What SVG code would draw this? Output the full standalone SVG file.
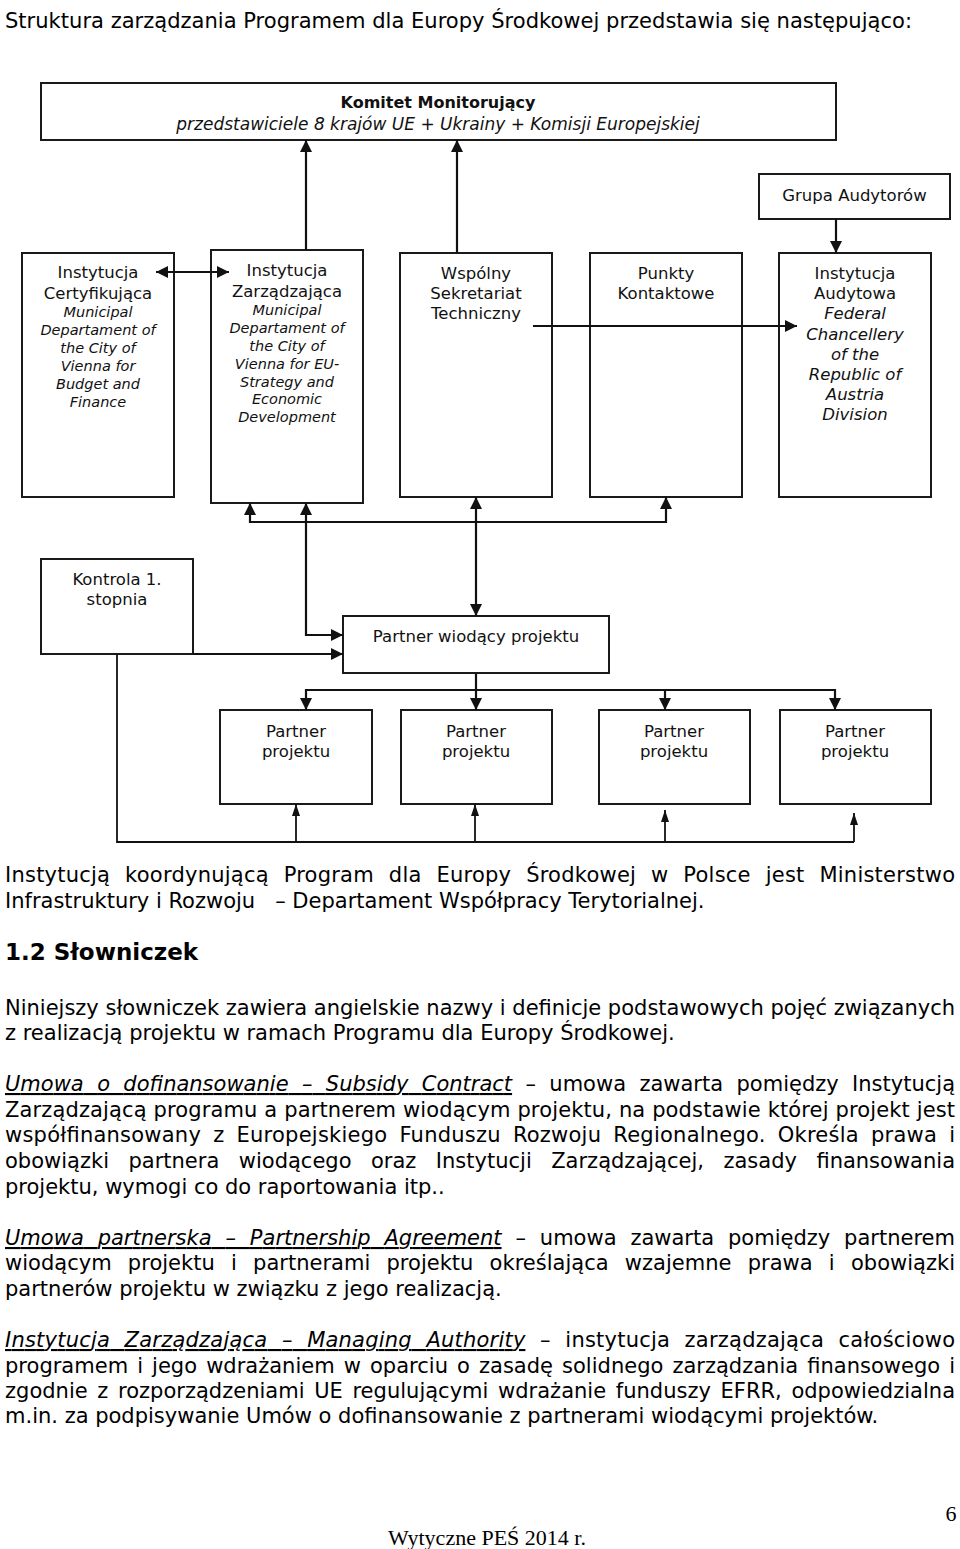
<svg xmlns="http://www.w3.org/2000/svg" width="960" height="1549" viewBox="0 0 960 1549">
<defs>
<style>
.bx{fill:#fff;stroke:#1a1a1a;stroke-width:2}
.t{font-family:"DejaVu Sans",Verdana,sans-serif;font-size:16.5px;fill:#111;text-anchor:middle}
.i{font-style:italic;font-size:14.5px}
.ib{font-style:italic}
.c{fill:none;stroke:#111;stroke-width:2.2}
.cs{fill:none;stroke:#111;stroke-width:1.8}
.ttl{font-family:"DejaVu Sans",Verdana,sans-serif;font-size:21px;fill:#000}
.b{font-family:"DejaVu Sans",Verdana,sans-serif;font-size:21px;fill:#000}
.u{font-style:italic;text-decoration:underline}
.h{font-family:"DejaVu Sans",Verdana,sans-serif;font-size:23px;font-weight:bold;fill:#000}
.f{font-family:"Liberation Serif","Times New Roman",serif;font-size:22px;fill:#000}
</style>
<marker id="a" markerUnits="userSpaceOnUse" viewBox="0 0 12 12" refX="12" refY="6" markerWidth="12" markerHeight="12" orient="auto-start-reverse"><path d="M0,0 L12,6 L0,12 z" fill="#111"/></marker>
<marker id="s" markerUnits="userSpaceOnUse" viewBox="0 0 12 8" refX="12" refY="4" markerWidth="12" markerHeight="8" orient="auto-start-reverse"><path d="M0,0 L12,4 L0,8 z" fill="#111"/></marker>
</defs>
<rect width="960" height="1549" fill="#fff"/>

<text id="title" class="ttl" x="5" y="28" textLength="907" lengthAdjust="spacingAndGlyphs">Struktura zarządzania Programem dla Europy Środkowej przedstawia się następująco:</text>

<g id="komitet">
<rect class="bx" x="41" y="83" width="795" height="57"/>
<text class="t" x="438" y="108" style="font-weight:bold;font-size:16px">Komitet Monitorujący</text>
<text class="t ib" x="438" y="130" style="font-size:17px">przedstawiciele 8 krajów UE + Ukrainy + Komisji Europejskiej</text>
</g>

<g id="grupa">
<rect class="bx" x="759" y="174" width="191" height="45"/>
<text class="t" x="854.5" y="201">Grupa Audytorów</text>
</g>

<g id="certyfikujaca">
<rect class="bx" x="22" y="253" width="152" height="244"/>
<text class="t" x="98" y="278">Instytucja</text>
<text class="t" x="98" y="299">Certyfikująca</text>
<text class="t i" x="98" y="317">Municipal</text>
<text class="t i" x="98" y="335">Departament of</text>
<text class="t i" x="98" y="353">the City of</text>
<text class="t i" x="98" y="371">Vienna for</text>
<text class="t i" x="98" y="389">Budget and</text>
<text class="t i" x="98" y="407">Finance</text>
</g>

<g id="zarzadzajaca">
<rect class="bx" x="211" y="250" width="152" height="253"/>
<text class="t" x="287" y="276">Instytucja</text>
<text class="t" x="287" y="297">Zarządzająca</text>
<text class="t i" x="287" y="315">Municipal</text>
<text class="t i" x="287" y="333">Departament of</text>
<text class="t i" x="287" y="351">the City of</text>
<text class="t i" x="287" y="369">Vienna for EU-</text>
<text class="t i" x="287" y="387">Strategy and</text>
<text class="t i" x="287" y="404">Economic</text>
<text class="t i" x="287" y="422">Development</text>
</g>

<g id="sekretariat">
<rect class="bx" x="400" y="253" width="152" height="244"/>
<text class="t" x="476" y="279">Wspólny</text>
<text class="t" x="476" y="299">Sekretariat</text>
<text class="t" x="476" y="319">Techniczny</text>
</g>

<g id="punkty">
<rect class="bx" x="590" y="253" width="152" height="244"/>
<text class="t" x="666" y="279">Punkty</text>
<text class="t" x="666" y="299">Kontaktowe</text>
</g>

<g id="audytowa">
<rect class="bx" x="779" y="253" width="152" height="244"/>
<text class="t" x="855" y="279">Instytucja</text>
<text class="t" x="855" y="299">Audytowa</text>
<text class="t ib" x="855" y="319">Federal</text>
<text class="t ib" x="855" y="340">Chancellery</text>
<text class="t ib" x="855" y="360">of the</text>
<text class="t ib" x="855" y="380">Republic of</text>
<text class="t ib" x="855" y="400">Austria</text>
<text class="t ib" x="855" y="420">Division</text>
</g>

<g id="kontrola">
<rect class="bx" x="41" y="559" width="152" height="95"/>
<text class="t" x="117" y="585">Kontrola 1.</text>
<text class="t" x="117" y="605">stopnia</text>
</g>

<g id="partner-wiodacy">
<rect class="bx" x="343" y="616" width="266" height="57"/>
<text class="t" x="476" y="642">Partner wiodący projektu</text>
</g>

<g id="partner1">
<rect class="bx" x="220" y="710" width="152" height="94"/>
<text class="t" x="296" y="737">Partner</text>
<text class="t" x="296" y="757">projektu</text>
</g>
<g id="partner2">
<rect class="bx" x="401" y="710" width="151" height="94"/>
<text class="t" x="476" y="737">Partner</text>
<text class="t" x="476" y="757">projektu</text>
</g>
<g id="partner3">
<rect class="bx" x="599" y="710" width="151" height="94"/>
<text class="t" x="674" y="737">Partner</text>
<text class="t" x="674" y="757">projektu</text>
</g>
<g id="partner4">
<rect class="bx" x="780" y="710" width="151" height="94"/>
<text class="t" x="855" y="737">Partner</text>
<text class="t" x="855" y="757">projektu</text>
</g>

<g id="connectors">
<path class="c" d="M306,250 L306,140" marker-end="url(#a)"/>
<path class="c" d="M457,253 L457,140" marker-end="url(#a)"/>
<path class="c" d="M156,272 L229,272" marker-start="url(#a)" marker-end="url(#a)"/>
<path class="c" d="M836,219 L836,253" marker-end="url(#a)"/>
<path class="c" d="M533,326 L797,326" marker-end="url(#a)"/>
<path class="c" d="M250,503 L250,522 L666,522 L666,497" marker-start="url(#a)" marker-end="url(#a)"/>
<path class="c" d="M476,497 L476,616" marker-start="url(#a)" marker-end="url(#a)"/>
<path class="c" d="M306,503 L306,635 L343,635" marker-start="url(#a)" marker-end="url(#a)"/>
<path class="c" d="M193,654 L343,654" marker-end="url(#a)"/>
<path class="c" d="M476,673 L476,710" marker-end="url(#a)"/>
<path class="c" d="M306,710 L306,690 L835,690 L835,710" marker-start="url(#a)" marker-end="url(#a)"/>
<path class="c" d="M665,690 L665,710" marker-end="url(#a)"/>
<path class="cs" d="M117,654 L117,842 L854,842"/>
<path class="cs" d="M296,842 L296,804" marker-end="url(#s)"/>
<path class="cs" d="M475,842 L475,804" marker-end="url(#s)"/>
<path class="cs" d="M665,842 L665,810" marker-end="url(#s)"/>
<path class="cs" d="M854,842 L854,813" marker-end="url(#s)"/>
</g>

<g id="text">
<text class="b" x="5" y="882" style="word-spacing:8px" textLength="950" lengthAdjust="spacing">Instytucją koordynującą Program dla Europy Środkowej w Polsce jest Ministerstwo</text>
<text class="b" x="5" y="908" style="white-space:pre">Infrastruktury i Rozwoju   – Departament Współpracy Terytorialnej.</text>

<text class="h" x="5" y="960">1.2 Słowniczek</text>

<text class="b" x="5" y="1015" textLength="950" lengthAdjust="spacing">Niniejszy słowniczek zawiera angielskie nazwy i definicje podstawowych pojęć związanych</text>
<text class="b" x="5" y="1040">z realizacją projektu w ramach Programu dla Europy Środkowej.</text>

<text class="b" x="5" y="1091" style="word-spacing:6.7px" textLength="950" lengthAdjust="spacing"><tspan class="u">Umowa o dofinansowanie – Subsidy Contract</tspan> – umowa zawarta pomiędzy Instytucją</text>
<text class="b" x="5" y="1117" textLength="950" lengthAdjust="spacing">Zarządzającą programu a partnerem wiodącym projektu, na podstawie której projekt jest</text>
<text class="b" x="5" y="1142" style="word-spacing:5.2px" textLength="950" lengthAdjust="spacing">współfinansowany z Europejskiego Funduszu Rozwoju Regionalnego. Określa prawa i</text>
<text class="b" x="5" y="1168" style="word-spacing:12.8px" textLength="950" lengthAdjust="spacing">obowiązki partnera wiodącego oraz Instytucji Zarządzającej, zasady finansowania</text>
<text class="b" x="5" y="1194">projektu, wymogi co do raportowania itp..</text>

<text class="b" x="5" y="1245" style="word-spacing:7.2px" textLength="950" lengthAdjust="spacing"><tspan class="u">Umowa partnerska – Partnership Agreement</tspan> – umowa zawarta pomiędzy partnerem</text>
<text class="b" x="5" y="1270" style="word-spacing:9.5px" textLength="950" lengthAdjust="spacing">wiodącym projektu i partnerami projektu określająca wzajemne prawa i obowiązki</text>
<text class="b" x="5" y="1296">partnerów projektu w związku z jego realizacją.</text>

<text class="b" x="5" y="1347" style="word-spacing:7.6px" textLength="950" lengthAdjust="spacing"><tspan class="u">Instytucja Zarządzająca – Managing Authority</tspan> – instytucja zarządzająca całościowo</text>
<text class="b" x="5" y="1373" style="word-spacing:2.4px" textLength="950" lengthAdjust="spacing">programem i jego wdrażaniem w oparciu o zasadę solidnego zarządzania finansowego i</text>
<text class="b" x="5" y="1398" style="word-spacing:2.9px" textLength="950" lengthAdjust="spacing">zgodnie z rozporządzeniami UE regulującymi wdrażanie funduszy EFRR, odpowiedzialna</text>
<text class="b" x="5" y="1423">m.in. za podpisywanie Umów o dofinansowanie z partnerami wiodącymi projektów.</text>
</g>

<g id="footer">
<text class="f" x="951" y="1521" text-anchor="middle">6</text>
<text class="f" x="487" y="1545" text-anchor="middle">Wytyczne PEŚ 2014 r.</text>
</g>
</svg>
